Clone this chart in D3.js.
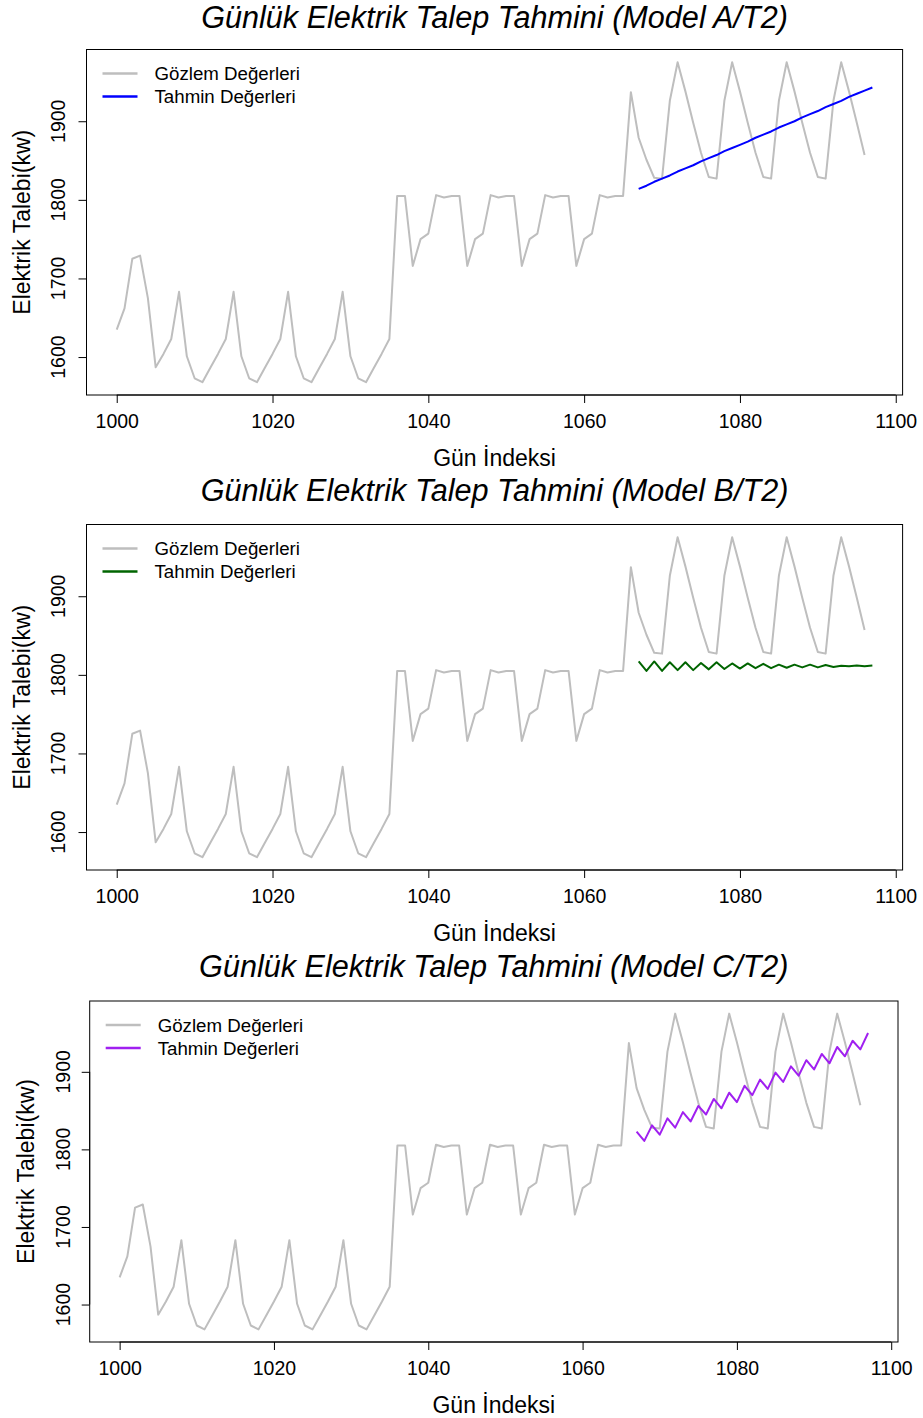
<!DOCTYPE html>
<html><head><meta charset="utf-8">
<script src="https://cdn.jsdelivr.net/npm/d3@7/dist/d3.min.js"></script>
<style>
body{margin:0;background:#fff;}
svg text{font-family:"Liberation Sans",Arial,sans-serif;fill:#000;}
</style></head>
<body><svg id="c" width="923" height="1418"></svg>
<script>
// ---- data ----
const obsStart = 1000;
const observed = [
 1635,1662,1725,1729,1675,1587,1604,1623,1683,1601,1573,1568,
 1586,1604,1623,1683,1601,1573,1568,
 1586,1604,1623,1683,1601,1573,1568,
 1586,1604,1623,1683,1601,1573,1568,
 1586,1604,1623,1805,1805,
 1716,1750,1757,1806,1803,1805,1805,
 1716,1750,1757,1806,1803,1805,1805,
 1716,1750,1757,1806,1803,1805,1805,
 1716,1750,1757,1806,1803,1805,1805,
 1937,1879,1851,1828,1827,
 1926,1975,1938,1898,1860,1829,1827,
 1926,1975,1938,1898,1860,1829,1827,
 1926,1975,1938,1898,1860,1829,1827,
 1926,1975,1938,1898,1857
];
const fcStart = 1067;
const forecastA = [1814,1818,1823,1827,1831,1836,1840,1844,1849,1853,1857,1862,1866,1870,1874,1879,
 1883,1887,1892,1896,1900,1905,1909,1913,1918,1922,1926,1931,1935,1939,1943];
const forecastB = [1817,1805,1817,1805,1816,1806,1816,1806,1815,1807,1816,1807.5,1814.5,1808,1814.5,1808.5,
 1814,1808.5,1813,1809,1813,1809.5,1813,1809.5,1812.5,1810,1811.5,1811,1812,1811,1812];
const forecastC = [1823,1811,1831,1819,1840,1828,1848,1836,1856,1845,1865,1853,1873,1861,1882,1870,
 1890,1878,1899,1887,1907,1895,1915,1903,1923,1911,1932,1920,1940,1929,1950];
const xTicks = [1000,1020,1040,1060,1080,1100];
const yTicks = [1600,1700,1800,1900];
const legendLabels = ["Gözlem Değerleri","Tahmin Değerleri"];
const panels = [
 {title:"Günlük Elektrik Talep Tahmini (Model A/T2)", fc:forecastA, color:"#0000FF",
  box:{l:86.5,r:902.6,t:49.5,b:395}, titleY:27.8, yLabX:30, yTickX:65},
 {title:"Günlük Elektrik Talep Tahmini (Model B/T2)", fc:forecastB, color:"#006400",
  box:{l:86.5,r:902.6,t:524.5,b:870}, titleY:500.5, yLabX:30, yTickX:65},
 {title:"Günlük Elektrik Talep Tahmini (Model C/T2)", fc:forecastC, color:"#A020F0",
  box:{l:89.7,r:898,t:1001,b:1342}, titleY:977, yLabX:33.5, yTickX:70}
];
const xLabel = "Gün İndeksi";
const yLabel = "Elektrik Talebi(kw)";

const svg = d3.select("#c");
const obsPts = observed.map((v,i)=>({x:obsStart+i,y:v}));

function rpad(ext){const d=(ext[1]-ext[0])*0.04;return [ext[0]-d,ext[1]+d];}

panels.forEach(p=>{
  const fcPts = p.fc.map((v,i)=>({x:fcStart+i,y:v}));
  const all = obsPts.concat(fcPts);
  const xs = d3.scaleLinear().domain(rpad(d3.extent(all,d=>d.x))).range([p.box.l,p.box.r]);
  const yDom = rpad(d3.extent(obsPts.concat(panels.flatMap(q=>q.fc.map(v=>({y:v})))),d=>d.y));
  const ys = d3.scaleLinear().domain(yDom).range([p.box.b,p.box.t]);
  const g = svg.append("g");
  const line = d3.line().x(d=>xs(d.x)).y(d=>ys(d.y));
  g.append("path").datum(obsPts).attr("d",line).attr("fill","none")
    .attr("stroke","#BEBEBE").attr("stroke-width",2).attr("stroke-linejoin","round");
  g.append("path").datum(fcPts).attr("d",line).attr("fill","none")
    .attr("stroke",p.color).attr("stroke-width",2).attr("stroke-linejoin","round");
  // box
  g.append("rect").attr("x",p.box.l).attr("y",p.box.t).attr("width",p.box.r-p.box.l)
    .attr("height",p.box.b-p.box.t).attr("fill","none").attr("stroke","#000").attr("stroke-width",1);
  // x axis
  const xa = g.append("g").attr("transform",`translate(0,${p.box.b})`)
    .call(d3.axisBottom(xs).tickValues(xTicks).tickSize(8).tickPadding(11.5).tickFormat(d3.format("d")));
  xa.select(".domain").attr("d",`M${xs(1000)},0H${xs(1100)}`).attr("stroke","#000");
  xa.selectAll(".tick line").attr("stroke","#000");
  xa.selectAll("text").attr("font-size",19.5).attr("font-family","Liberation Sans, Arial, sans-serif");
  // y axis
  const ya = g.append("g").attr("transform",`translate(${p.box.l},0)`)
    .call(d3.axisLeft(ys).tickValues(yTicks).tickSize(8).tickFormat(d3.format("d")));
  ya.select(".domain").attr("d",`M0,${ys(1600)}V${ys(1900)}`).attr("stroke","#000");
  ya.selectAll("text").remove();
  yTicks.forEach(t=>{
    g.append("text").attr("transform",`translate(${p.yTickX},${ys(t)}) rotate(-90)`)
      .attr("text-anchor","middle").attr("font-size",19.5).text(t);
  });
  // titles
  const cx = (p.box.l+p.box.r)/2;
  g.append("text").attr("x",cx).attr("y",p.titleY).attr("text-anchor","middle")
    .attr("font-size",30.6).attr("font-style","italic").text(p.title);
  g.append("text").attr("x",cx).attr("y",p.box.b+70.5).attr("text-anchor","middle")
    .attr("font-size",23).text(xLabel);
  g.append("text").attr("transform",`translate(${p.yLabX},${(p.box.t+p.box.b)/2}) rotate(-90)`)
    .attr("text-anchor","middle").attr("font-size",23).text(yLabel);
  // legend
  const lx = p.box.l+16, ly = p.box.t+24;
  [["#BEBEBE",legendLabels[0]],[p.color,legendLabels[1]]].forEach((e,i)=>{
    g.append("line").attr("x1",lx).attr("x2",lx+35).attr("y1",ly+i*23).attr("y2",ly+i*23)
      .attr("stroke",e[0]).attr("stroke-width",2.5);
    g.append("text").attr("x",lx+52).attr("y",ly+i*23+6.5).attr("font-size",18.7).text(e[1]);
  });
});
</script></body></html>
